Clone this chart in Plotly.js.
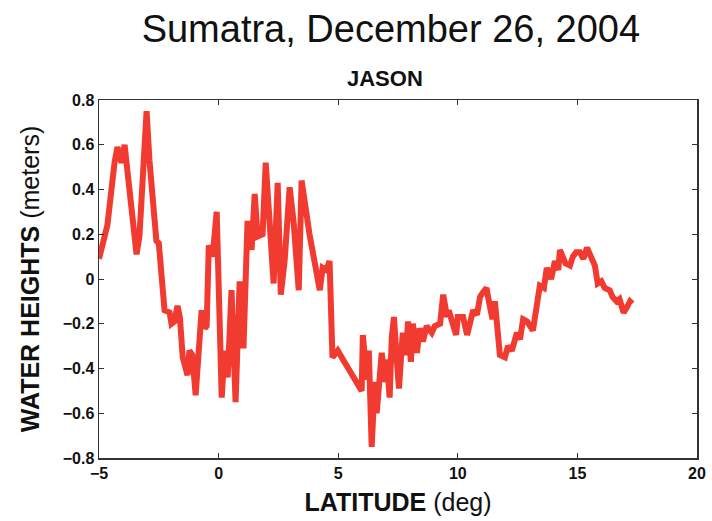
<!DOCTYPE html>
<html><head><meta charset="utf-8">
<script src="https://cdn.plot.ly/plotly-3.0.1.min.js"></script>
<style>html,body{margin:0;padding:0;background:#fff;}#chart{width:712px;height:521px;}</style>
</head><body><div id="chart"></div>
<script>
const latitude = [-5.0,-4.77,-4.65,-4.35,-4.23,-4.06,-3.93,-3.85,-3.43,-3.31,-3.01,-2.89,-2.6,-2.5,-2.26,-2.05,-1.97,-1.85,-1.72,-1.62,-1.5,-1.3,-1.22,-1.1,-0.96,-0.71,-0.58,-0.5,-0.41,-0.25,-0.08,0.13,0.25,0.38,0.54,0.71,0.88,1.04,1.21,1.38,1.51,1.63,1.84,1.97,2.1,2.3,2.47,2.6,2.76,2.97,3.14,3.35,3.47,3.8,4.23,4.35,4.5,4.64,4.76,4.98,5.48,5.98,6.03,6.2,6.28,6.4,6.53,6.61,6.82,6.95,7.03,7.15,7.24,7.33,7.45,7.54,7.7,7.83,7.92,8.04,8.12,8.29,8.41,8.54,8.7,8.91,9.04,9.26,9.39,9.55,9.62,9.8,9.93,10.0,10.22,10.39,10.52,10.64,10.8,10.93,11.05,11.2,11.3,11.45,11.55,11.7,11.76,11.97,12.1,12.26,12.47,12.6,12.73,12.9,13.14,13.3,13.43,13.6,13.72,13.9,14.06,14.2,14.27,14.5,14.69,14.81,14.95,15.1,15.25,15.4,15.55,15.73,15.85,16.0,16.14,16.35,16.47,16.64,16.76,16.93,17.05,17.2,17.3];
const waterHeight = [0.09,0.21,0.24,0.52,0.59,0.52,0.60,0.52,0.11,0.19,0.75,0.53,0.17,0.16,-0.14,-0.15,-0.20,-0.19,-0.12,-0.17,-0.35,-0.43,-0.32,-0.34,-0.52,-0.14,-0.22,-0.21,0.15,0.10,0.30,-0.53,-0.32,-0.44,-0.05,-0.55,-0.01,-0.31,0.26,0.13,0.38,0.19,0.20,0.52,0.29,-0.02,0.43,-0.07,0.08,0.41,0.25,-0.05,0.44,0.20,-0.05,0.05,0.04,0.08,-0.35,-0.32,-0.41,-0.50,-0.25,-0.45,-0.32,-0.75,-0.46,-0.60,-0.33,-0.46,-0.36,-0.53,-0.26,-0.17,-0.36,-0.49,-0.24,-0.34,-0.19,-0.37,-0.20,-0.33,-0.22,-0.28,-0.21,-0.24,-0.21,-0.20,-0.07,-0.17,-0.14,-0.21,-0.25,-0.17,-0.17,-0.25,-0.19,-0.14,-0.16,-0.08,-0.06,-0.04,-0.10,-0.18,-0.10,-0.27,-0.34,-0.35,-0.30,-0.32,-0.24,-0.27,-0.18,-0.19,-0.23,-0.12,-0.03,-0.04,0.05,0.00,0.08,0.04,0.13,0.07,0.06,0.10,0.12,0.12,0.09,0.14,0.10,0.06,-0.02,-0.01,-0.04,-0.05,-0.08,-0.10,-0.09,-0.15,-0.13,-0.10,-0.11];
const xTicks = [-5,0,5,10,15,20];
const xTickText = ['\u22125','0','5','10','15','20'];
const yTicks = [-0.8,-0.6,-0.4,-0.2,0,0.2,0.4,0.6,0.8];
const yTickText = ['\u22120.8','\u22120.6','\u22120.4','\u22120.2','0','0.2','0.4','0.6','0.8'];

const font = '"Liberation Sans", Arial, sans-serif';
const trace = {
  x: latitude, y: waterHeight, type: 'scatter', mode: 'lines',
  line: {color: '#f23b30', width: 6, shape: 'linear'},
  hoverinfo: 'skip'
};
const axisCommon = {
  showgrid: false, zeroline: false, showline: true, linecolor: '#333', linewidth: 1.5,
  mirror: 'ticks', ticks: 'inside', ticklen: 5, tickcolor: '#333', tickwidth: 1,
  tickfont: {family: font, size: 16, color: '#111', weight: 'bold'}
};
const layout = {
  width: 712, height: 521,
  margin: {l: 99, r: 15, t: 100, b: 63},
  paper_bgcolor: '#fff', plot_bgcolor: '#fff',
  showlegend: false,
  title: {text: 'Sumatra, December 26, 2004', x: 0.549, xanchor: 'center', y: 0.945, yanchor: 'middle', font: {family: font, size: 38, color: '#111'}},
  annotations: [{text: '<b>JASON</b>', xref: 'paper', yref: 'paper', x: 0.479, y: 1.0, yshift: 22, xanchor: 'center', yanchor: 'middle', showarrow: false, font: {family: font, size: 22, color: '#111'}}],
  xaxis: Object.assign({}, axisCommon, {
    range: [-5, 20], tickmode: 'array', tickvals: xTicks, ticktext: xTickText,
    title: {text: '<b>LATITUDE</b> (deg)', standoff: 13, font: {family: font, size: 25, color: '#111'}}
  }),
  yaxis: Object.assign({}, axisCommon, {
    range: [-0.8, 0.8], tickmode: 'array', tickvals: yTicks, ticktext: yTickText,
    title: {text: '<b>WATER HEIGHTS</b> (meters)', standoff: 16, font: {family: font, size: 25, color: '#111'}}
  })
};
Plotly.newPlot('chart', [trace], layout, {displayModeBar: false, staticPlot: true});
</script></body></html>
